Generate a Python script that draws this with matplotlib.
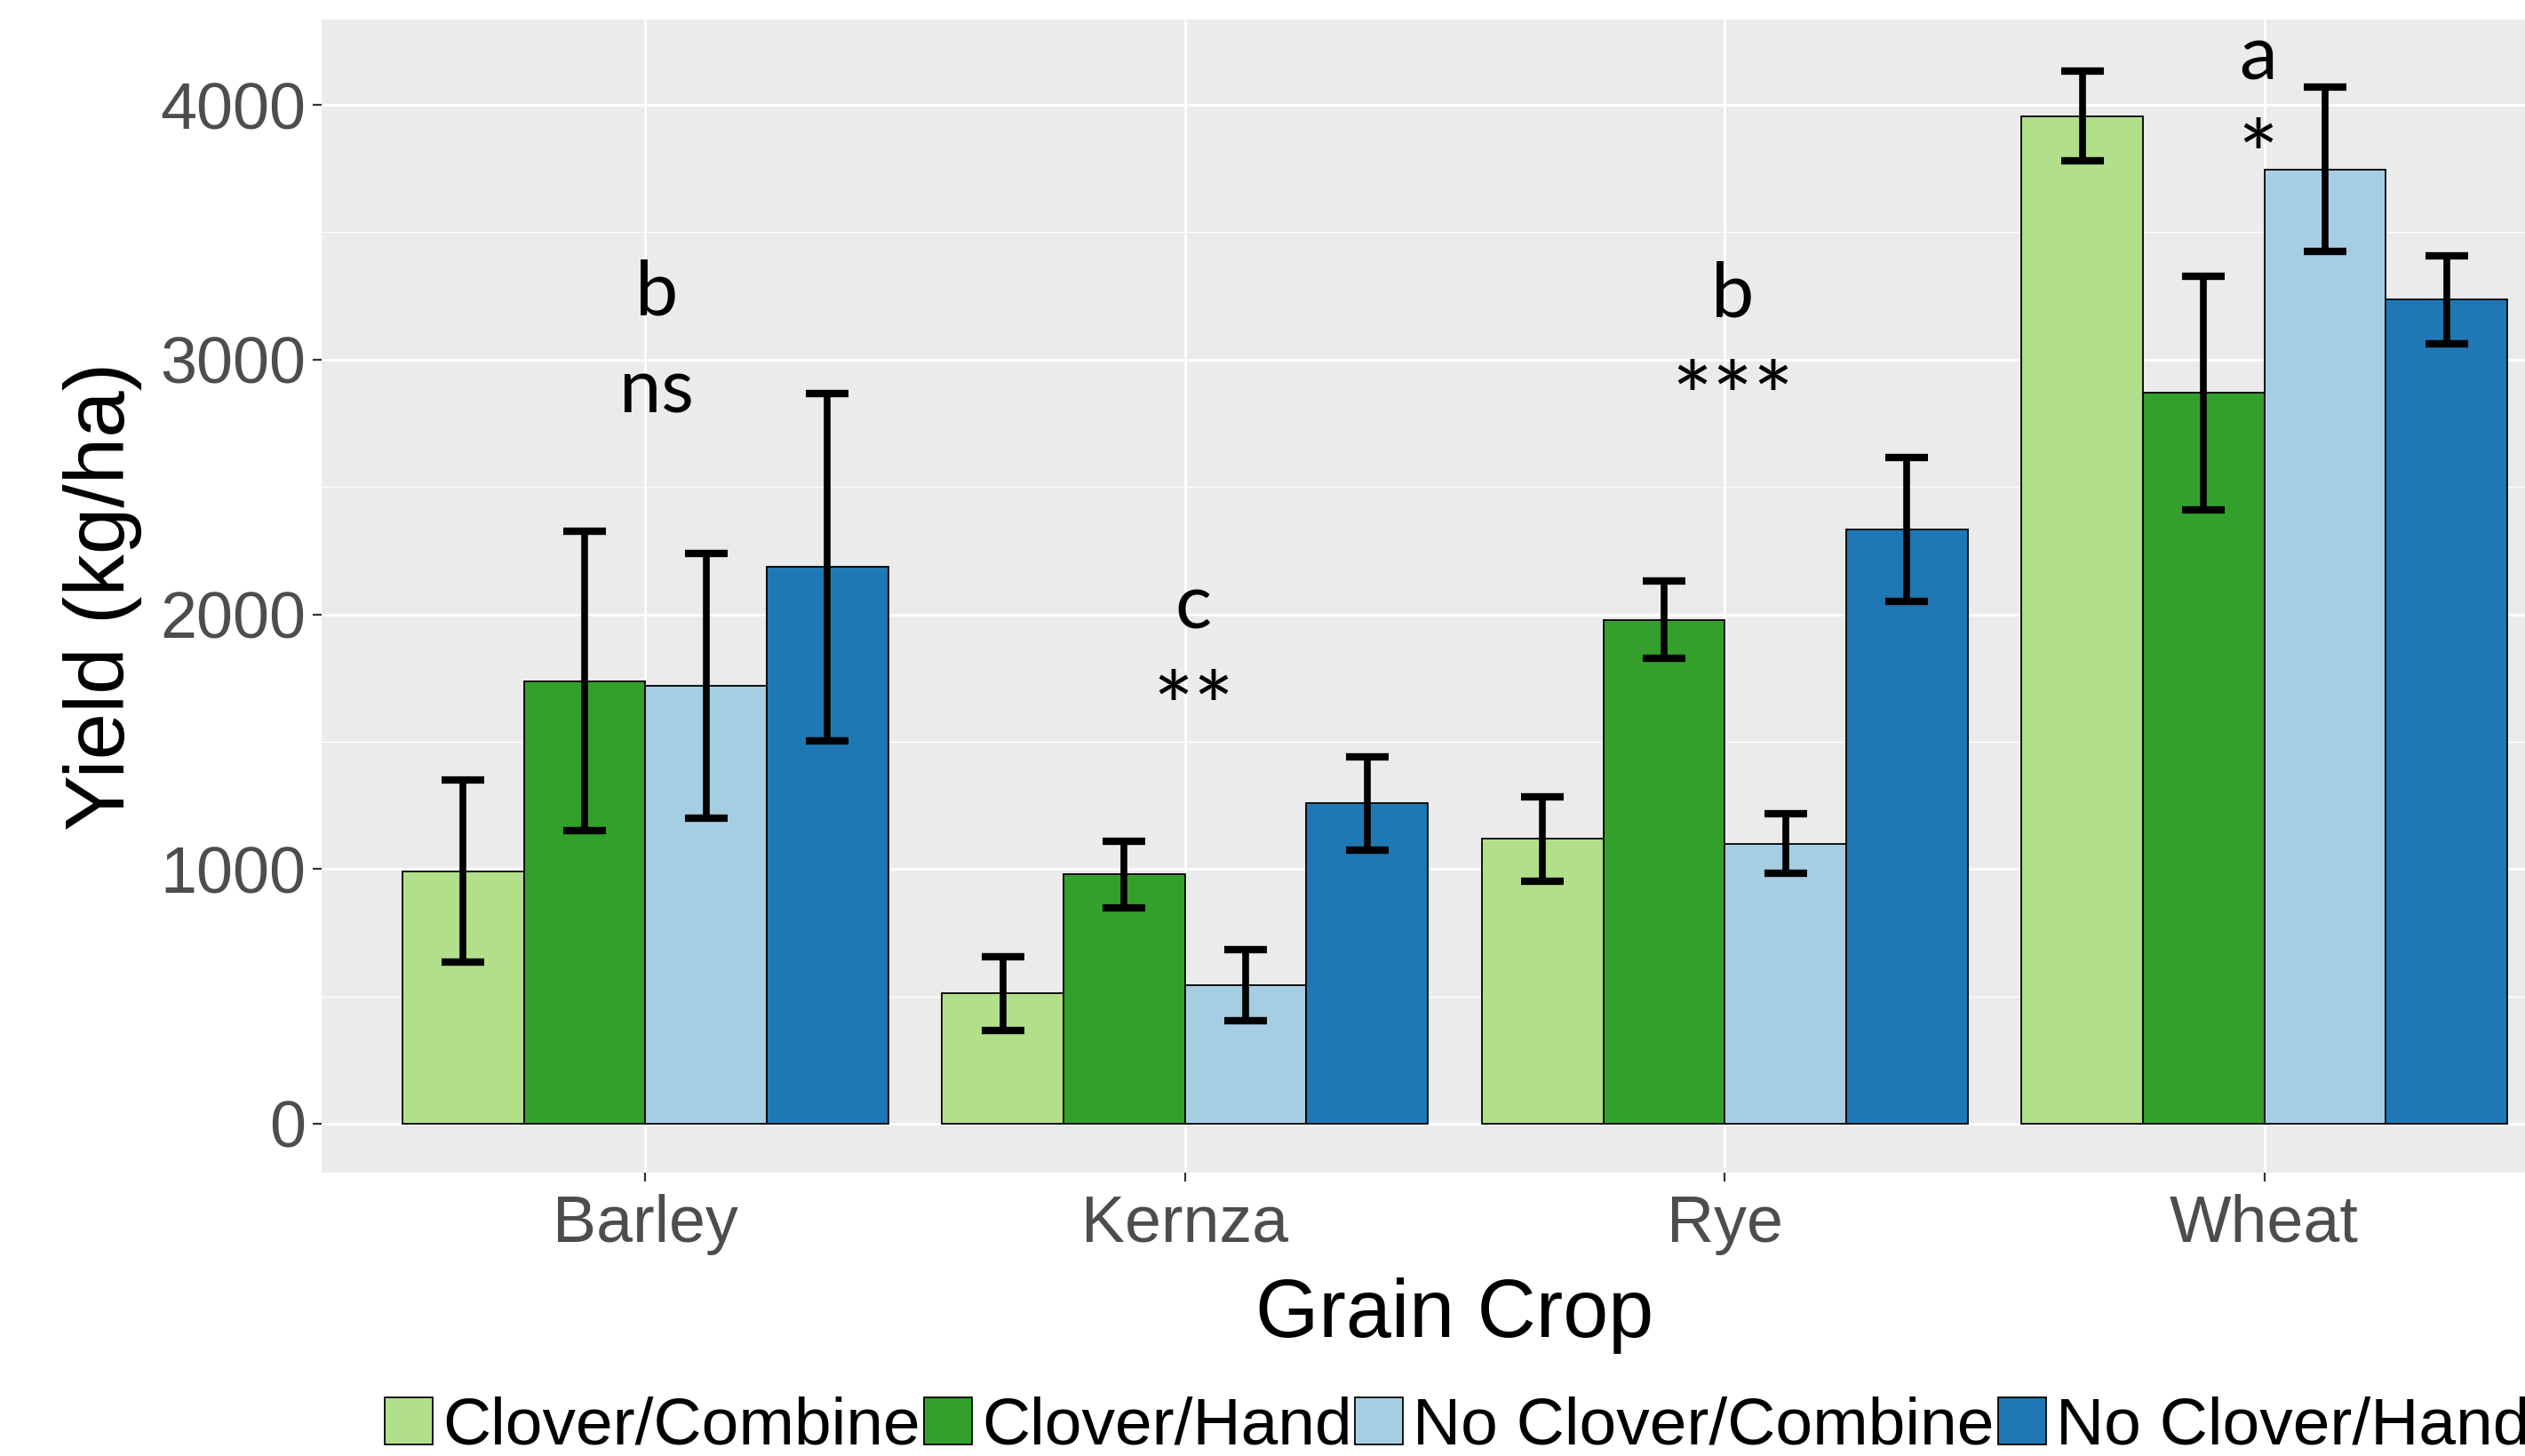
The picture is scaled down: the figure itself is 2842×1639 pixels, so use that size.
#!/usr/bin/env python3
"""Grain crop yield by clover / harvest treatment, ggplot-style grouped bars."""

import matplotlib

matplotlib.use("Agg")
import matplotlib.pyplot as plt
import numpy as np
from matplotlib.patches import Patch

crops = ["Barley", "Kernza", "Rye", "Wheat"]
treatments = ["Clover/Combine", "Clover/Hand", "No Clover/Combine", "No Clover/Hand"]
colors = ["#B2DF8A", "#33A02C", "#A6CEE3", "#1F78B4"]

# mean yield (kg/ha) per treatment, in crop order
clover_combine = [992, 512, 1118, 3956]
clover_hand = [1738, 979, 1978, 2869]
noclover_combine = [1719, 543, 1100, 3747]
noclover_hand = [2186, 1258, 2332, 3235]

# error half-widths
clover_combine_err = [357, 145, 165, 177]
clover_hand_err = [588, 130, 152, 458]
noclover_combine_err = [521, 140, 117, 322]
noclover_hand_err = [682, 183, 282, 174]

# letter / significance annotations (baseline heights in data units)
letters = ["b", "c", "b", "a"]
letter_y = [3175, 1945, 3170, 4100]
letter_dx = [0.02, 0.015, 0.015, -0.012]
stars = ["ns", "**", "***", "*"]
star_y = [2790, 1500, 2717, 3665]
star_size = [61, 78, 78, 78]

means = [clover_combine, clover_hand, noclover_combine, noclover_hand]
errs = [clover_combine_err, clover_hand_err, noclover_combine_err, noclover_hand_err]

W, H, DPI = 2842, 1639, 100
fig = plt.figure(figsize=(W / DPI, H / DPI), dpi=DPI, facecolor="white")
ax = fig.add_axes([362 / W, (H - 1320) / H, (2913 - 362) / W, (1320 - 22) / H])
ax.set_facecolor("#EBEBEB")
for sp in ax.spines.values():
    sp.set_visible(False)

x = np.arange(len(crops))
bw = 0.9 / len(treatments)
for i, (vals, err, col) in enumerate(zip(means, errs, colors)):
    pos = x + (i - 1.5) * bw
    ax.bar(pos, vals, width=bw, color=col, edgecolor="black", linewidth=1.3, zorder=3)
    ax.errorbar(pos, vals, yerr=err, fmt="none", ecolor="black", elinewidth=5.5,
                capsize=17, capthick=6, zorder=4)

ann_font = "Lato"
for xi, lab, ly, dx, st, sy, ss in zip(x, letters, letter_y, letter_dx, stars, star_y, star_size):
    ax.text(xi + dx, ly, lab, ha="center", va="baseline", fontsize=62, family=ann_font, zorder=5)
    ax.text(xi + dx, sy, st, ha="center", va="baseline", fontsize=ss, family=ann_font, zorder=5)

ax.set_xlim(-0.6, len(crops) - 0.4)
ax.set_ylim(-192, 4335)
ax.set_xticks(x)
ax.set_xticklabels(crops)
ax.set_yticks(np.arange(0, 4001, 1000))
ax.set_yticks(np.arange(500, 4001, 1000), minor=True)
ax.grid(True, which="major", color="white", linewidth=2.0, zorder=0)
ax.grid(True, which="minor", axis="y", color="white", linewidth=1.0, zorder=0)
ax.set_axisbelow(True)
ax.tick_params(axis="both", which="major", length=7, width=1.6, color="#333333",
               labelcolor="#4D4D4D", labelsize=53, pad=6)
ax.tick_params(axis="x", which="major", pad=10)
ax.tick_params(axis="both", which="minor", length=0)
for lbl in ax.get_xticklabels() + ax.get_yticklabels():
    lbl.set_family("Liberation Sans")

ax.set_xlabel("Grain Crop", fontsize=66, family="Liberation Sans", labelpad=18)
ax.set_ylabel("Yield (kg/ha)", fontsize=68, family="Liberation Sans", labelpad=14)

handles = [Patch(facecolor=c, edgecolor="black", linewidth=1.3) for c in colors]
fig.legend(handles, treatments, loc="center left", bbox_to_anchor=(433 / W, 1 - 1606 / H),
           ncol=4, frameon=False, prop={"family": "Liberation Sans", "size": 54},
           handlelength=0.72, handleheight=0.72, handletextpad=0.15, columnspacing=0.05,
           borderaxespad=0, borderpad=0)

fig.savefig("out.png", dpi=DPI, facecolor="white")
